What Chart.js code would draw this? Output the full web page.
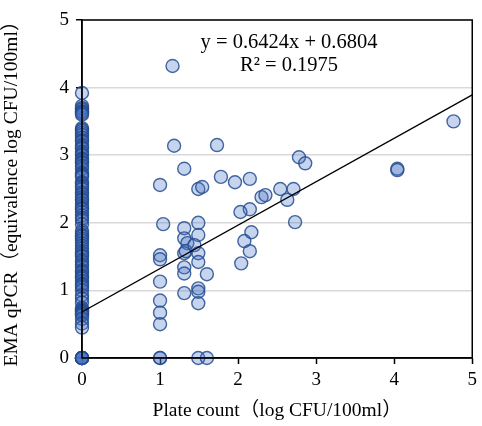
<!DOCTYPE html>
<html>
<head>
<meta charset="utf-8">
<script src="https://cdn.jsdelivr.net/npm/chart.js@4.4.1/dist/chart.umd.min.js"></script>
<style>
  html, body { margin: 0; padding: 0; background: #fff; }
  #wrap { width: 482px; height: 426px; }
</style>
</head>
<body>
<div id="wrap"><canvas id="myChart" width="482" height="426"></canvas></div>
<script>
// plate count (x) and EMA qPCR (y), log CFU/100ml
const zeroColumn = [
  3.92,3.73,3.7,3.68,3.65,3.64,3.62,3.6,3.4,3.38,3.36,3.33,3.3,3.26,3.22,3.2,3.15,3.12,3.1,3.05,3.02,3.0,2.95,2.93,2.9,
  2.88,2.84,2.8,2.74,2.72,2.7,2.68,2.6,2.58,2.55,2.53,2.5,2.45,2.42,2.38,2.35,2.33,2.29,2.25,2.22,2.2,2.16,2.11,2.07,
  2.04,1.98,1.88,1.85,1.82,1.8,1.77,1.74,1.7,1.66,1.62,1.58,1.55,1.52,1.5,1.45,1.42,1.38,1.35,1.3,1.28,1.26,1.22,1.2,
  1.18,1.14,1.1,1.08,1.05,1.0,0.93,0.88,0.82,0.74,0.72,0.7,0.69,0.68,0.66,0.65,0.63,0.58,0.51,0.45,
  0,0,0,0,0,0,0,0
];
const plateCount = zeroColumn.map(() => 0).concat([
  1,1.04,1,1,1,1,1,1,1,1,
  1.18,1.16,1.31,1.31,1.31,1.35,1.31,1.33,1.31,1.31,1.31,
  1.49,1.54,1.49,1.49,1.44,1.49,1.49,1.49,1.49,1.49,1.49,1.6,1.6,
  1.73,1.78,1.96,2.15,2.3,2.35,2.08,2.17,2.15,2.04,2.15,2.03,
  2.54,2.71,2.63,2.78,2.86,2.73,4.04,4.04,4.76
]);
const emaQpcr = zeroColumn.concat([
  2.56,1.98,1.52,1.46,1.13,0.85,0.67,0.5,0,0,
  3.14,4.32,2.8,1.92,1.77,1.7,1.55,1.58,1.34,1.25,0.96,
  2.5,2.53,2.0,1.82,1.67,1.55,1.42,1.03,0.98,0.81,0,0,1.24,
  3.15,2.68,2.6,2.65,2.38,2.41,1.73,1.86,1.58,1.4,2.2,2.16,
  2.5,2.5,2.34,2.97,2.88,2.01,2.8,2.78,3.5
]);
const axisTicks = [0, 1, 2, 3, 4, 5];
const slope = 0.6424;
const intercept = 0.6804;
const equationText = "y = 0.6424x + 0.6804";
const r2Text = "R² = 0.1975";

const serif = "'Liberation Serif', 'Times New Roman', 'Noto Sans CJK SC', serif";

let points = plateCount.map(function(x, i){
  return {x: x, y: emaQpcr[i]}
})

const frameAndLabel = {
  id: 'frameAndLabel',
  afterDatasetsDraw(chart) {
    const ctx = chart.ctx;
    const a = chart.chartArea;
    ctx.save();
    ctx.strokeStyle = '#000';
    ctx.lineWidth = 1.5;
    ctx.strokeRect(a.left, a.top, a.right - a.left, a.bottom - a.top);
    ctx.fillStyle = '#000';
    ctx.font = "20.5px " + serif;
    ctx.textAlign = 'center';
    ctx.textBaseline = 'middle';
    ctx.fillText(equationText, 289, 43);
    ctx.fillText(r2Text, 289, 66);
    ctx.restore();
  }
};

const ctx = document.getElementById('myChart');

new Chart(ctx, {
  type: 'scatter',
  data: {
    datasets: [{
      type: 'line',
      data: [{x: 0, y: intercept}, {x: 5, y: slope * 5 + intercept}],
      borderColor: '#000',
      borderWidth: 1.3,
      pointRadius: 0,
      fill: false,
      order: 0
    }, {
      data: points,
      backgroundColor: 'rgba(68,114,196,0.3)',
      borderColor: 'rgba(38,78,145,0.85)',
      borderWidth: 1.4,
      pointRadius: 6.5,
      pointHoverRadius: 6.5,
      clip: false,
      order: 1
    }]
  },
  options: {
    responsive: false,
    animation: false,
    layout: { padding: { left: 0, right: 6, top: 20, bottom: 0 } },
    plugins: {
      legend: { display: false },
      tooltip: { enabled: false }
    },
    scales: {
      x: {
        type: 'linear',
        min: 0,
        max: 5,
        afterFit: function(scale) { scale.height = 68; },
        afterBuildTicks: function(scale) { scale.ticks = axisTicks.map(v => ({value: v})); },
        grid: { drawOnChartArea: false, drawTicks: true, tickLength: 6, tickColor: '#000', tickWidth: 1.5 },
        border: { color: '#000', width: 1.5 },
        ticks: { color: '#000', font: { family: serif, size: 19 }, padding: 5 },
        title: { display: true, text: 'Plate count（log CFU/100ml）', color: '#000', font: { family: serif, size: 19.5 }, padding: { top: 0, bottom: 3 } }
      },
      y: {
        type: 'linear',
        min: 0,
        max: 5,
        afterFit: function(scale) { scale.width = 82; },
        afterBuildTicks: function(scale) { scale.ticks = axisTicks.map(v => ({value: v})); },
        grid: { color: '#d9d9d9', lineWidth: 1.5, drawTicks: true, tickLength: 6, tickColor: '#000', tickWidth: 1.5 },
        border: { color: '#000', width: 1.5 },
        ticks: { color: '#000', font: { family: serif, size: 19 }, padding: 7 },
        title: { display: true, text: 'EMA qPCR（equivalence log CFU/100ml）', color: '#000', font: { family: serif, size: 19.5 }, padding: { top: 0, bottom: 8 } }
      }
    }
  },
  plugins: [frameAndLabel]
});
</script>
</body>
</html>
